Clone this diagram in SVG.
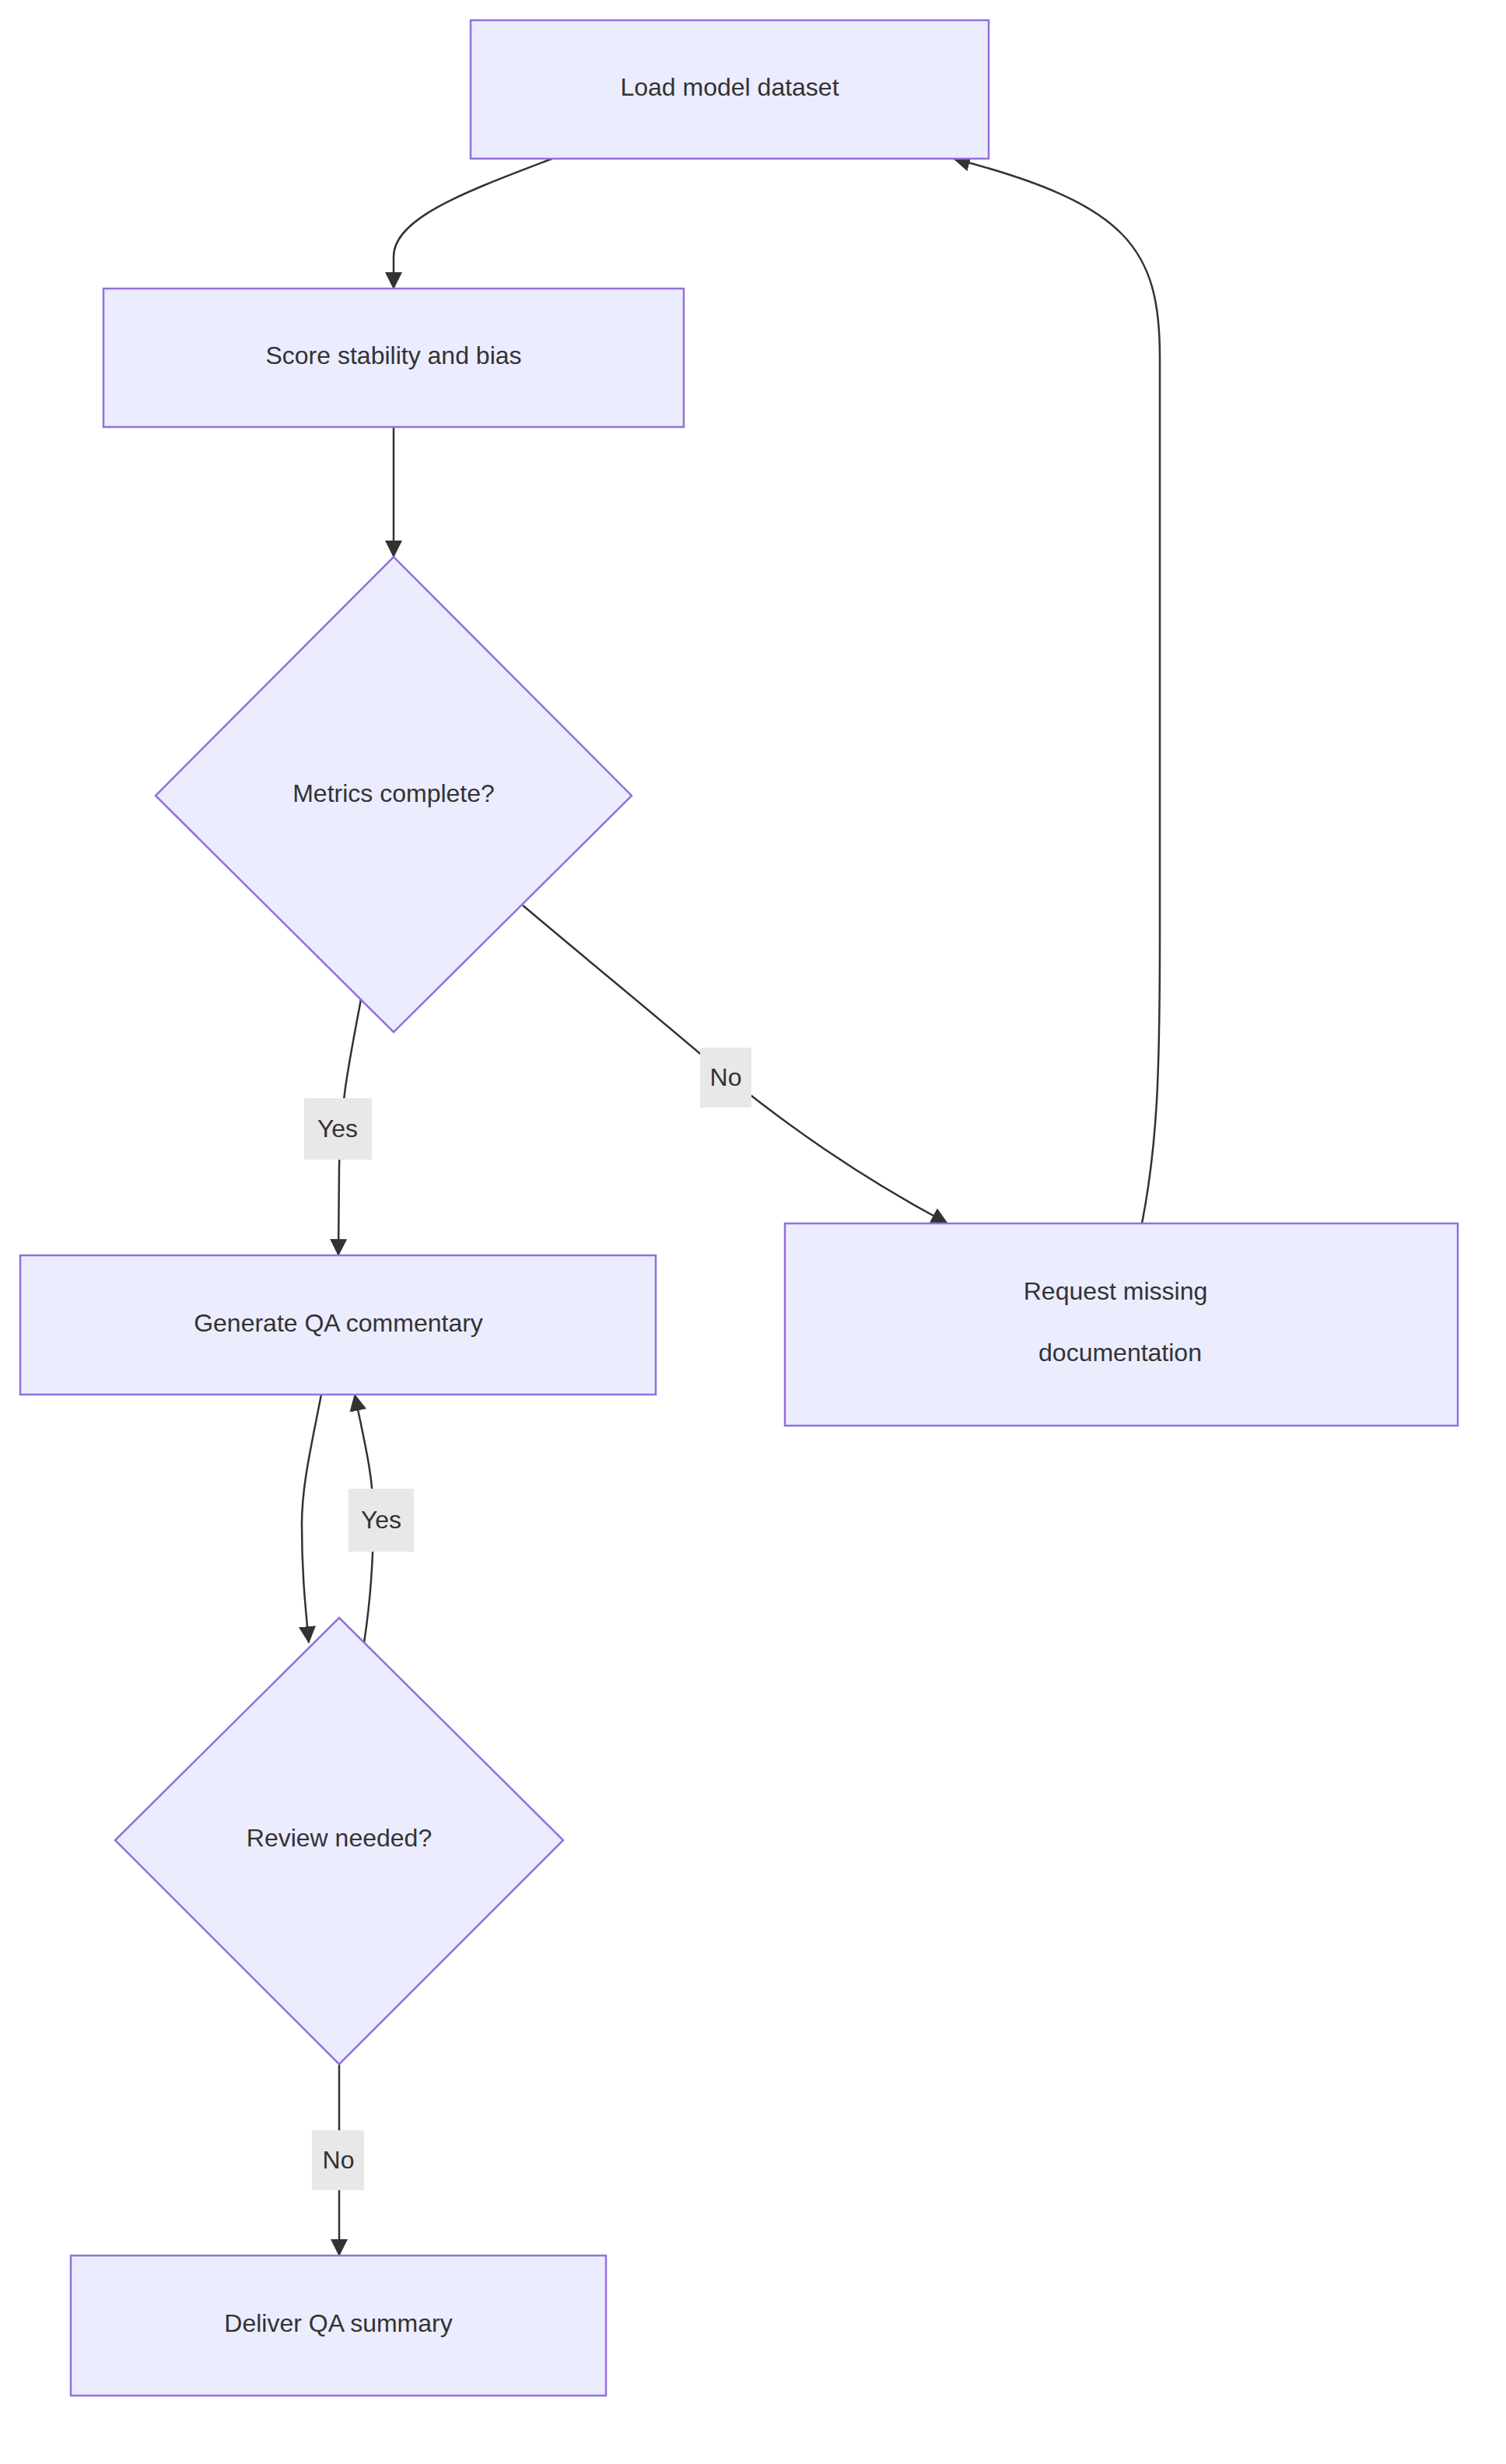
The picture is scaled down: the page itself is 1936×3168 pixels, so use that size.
<svg xmlns="http://www.w3.org/2000/svg" width="1936" height="3168" viewBox="0 0 1936 3168">
<style>
.n{fill:#ECECFF;stroke:#9370DB;stroke-width:2.5}
.t{font-family:"Liberation Sans",Arial,sans-serif;font-size:32px;fill:#333;text-anchor:middle;dominant-baseline:central}
.e{fill:none;stroke:#333;stroke-width:2.5}
.lb{fill:#e8e8e8}
</style>
<defs><marker id="a" viewBox="0 0 20 20" markerUnits="userSpaceOnUse" markerWidth="22" markerHeight="22" refX="19" refY="10" orient="auto"><path d="M0,0 L20,10 L0,20 z" fill="#333"/></marker></defs>
<rect width="1936" height="3168" fill="#fff"/>
<g id="edges">
<path class="e" marker-end="url(#a)" d="M710,204 C600,246 506,280 506,330 L506,371"/>
<path class="e" marker-end="url(#a)" d="M506,549 L506,716"/>
<path class="e" marker-end="url(#a)" d="M464,1285 C450,1360 437,1420 436,1500 L435,1614"/>
<path class="e" marker-end="url(#a)" d="M672,1164 C780,1255 860,1320 932,1382 C1010,1445 1100,1510 1218,1573"/>
<path class="e" marker-end="url(#a)" d="M1468,1573 C1488,1470 1491,1380 1491,1200 L1491,460 C1491,320 1450,262 1226,204"/>
<path class="e" marker-end="url(#a)" d="M413,1793 C400,1860 388,1910 388,1960 C388,2020 392,2060 397,2112"/>
<path class="e" marker-end="url(#a)" d="M468,2112 C476,2060 480,2000 480,1950 C480,1900 470,1860 456,1793"/>
<path class="e" marker-end="url(#a)" d="M436,2654 L436,2900"/>
<rect class="lb" x="391" y="1412" width="87" height="79"/><text class="t" x="434" y="1451">Yes</text>
<rect class="lb" x="900" y="1347" width="66" height="77"/><text class="t" x="933" y="1385">No</text>
<rect class="lb" x="448" y="1914" width="84" height="81"/><text class="t" x="490" y="1954">Yes</text>
<rect class="lb" x="401" y="2739" width="67" height="77"/><text class="t" x="435" y="2777">No</text>
</g>
<g id="load"><rect class="n" x="605" y="26" width="666" height="178"/><text class="t" x="938" y="112">Load model dataset</text></g>
<g id="score"><rect class="n" x="133" y="371" width="746" height="178"/><text class="t" x="506" y="457">Score stability and bias</text></g>
<g id="metrics"><polygon class="n" points="506,716 812,1023 506,1327 200,1023"/><text class="t" x="506" y="1020">Metrics complete?</text></g>
<g id="generate"><rect class="n" x="26" y="1614" width="817" height="179"/><text class="t" x="435" y="1701">Generate QA commentary</text></g>
<g id="request"><rect class="n" x="1009" y="1573" width="865" height="260"/><text class="t" x="1434" y="1660">Request missing</text><text class="t" x="1440" y="1739">documentation</text></g>
<g id="review"><polygon class="n" points="436,2080 724,2366 436,2654 148,2366"/><text class="t" x="436" y="2363">Review needed?</text></g>
<g id="deliver"><rect class="n" x="91" y="2900" width="688" height="180"/><text class="t" x="435" y="2987">Deliver QA summary</text></g>
</svg>
